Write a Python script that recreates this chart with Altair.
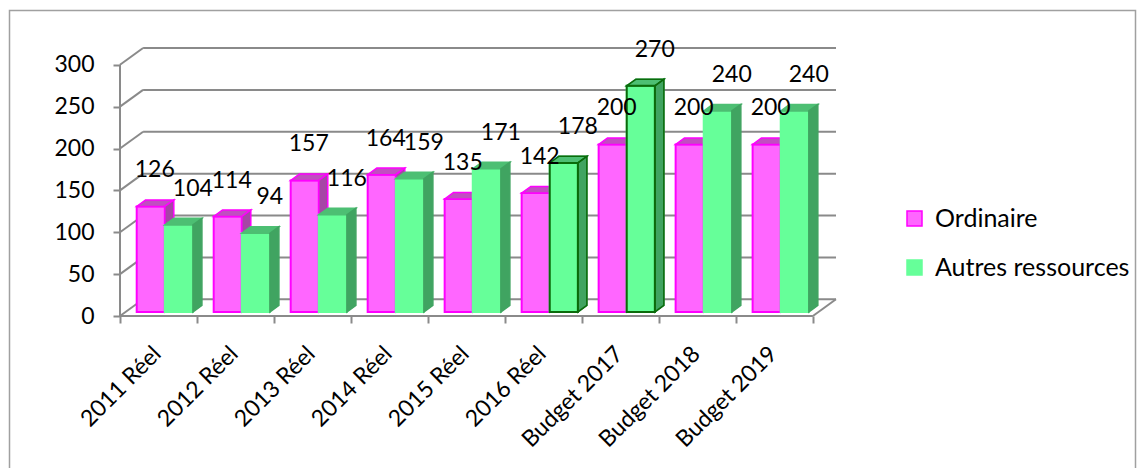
import json

import altair as alt
import pandas as pd

# Values shown on the chart
categories = ["2011 Réel", "2012 Réel", "2013 Réel", "2014 Réel", "2015 Réel",
              "2016 Réel", "Budget 2017", "Budget 2018", "Budget 2019"]
ordinaire = [126, 114, 157, 164, 135, 142, 200, 200, 200]
autres = [104, 94, 116, 159, 171, 178, 270, 240, 240]
series_names = ["Ordinaire", "Autres ressources"]
outlined = ["2016 Réel", "Budget 2017"]          # bars drawn with a dark outline
y_ticks = [0, 50, 100, 150, 200, 250, 300]

# Plot-area size (px) and pseudo-3D geometry in data units
W, H = 716, 268
X_MAX, Y_MAX = 9.3, 320
WALL_DX, WALL_DY = 0.3, 20          # depth of the back wall
SHIFT_X, SHIFT_Y = 0.072, 4.8       # bars sit a little behind the front edge
BAR_DX, BAR_DY = 0.117, 7.8         # depth of each bar
BAR_W = 0.365
BAR_START = {"Ordinaire": 0.145, "Autres ressources": 0.51}

FONT = "Lato"
GRID = "#8A8A8A"
FRONT = {"Ordinaire": "#FF66FF", "Autres ressources": "#66FF99"}
EDGE = {"Ordinaire": "#FF00FF", "Autres ressources": "#66FF99"}
TOP = {"Ordinaire": "#C04FC0", "Autres ressources": "#4DBF73"}
SIDE = {"Ordinaire": "#A646A6", "Autres ressources": "#40A461"}
DARK = "#0B6B0B"

front_rows, top_rows, side_rows = [], [], []
for i, cat in enumerate(categories):
    for s, vals in zip(series_names, [ordinaire, autres]):
        v = vals[i]
        x0 = i + BAR_START[s] + SHIFT_X
        x1 = x0 + BAR_W
        y0, y1 = SHIFT_Y, v + SHIFT_Y
        front_rows.append(dict(cat=cat, series=s, value=v, x0=x0, x1=x1,
                               y0=y0, y1=y1, xc=(x0 + x1) / 2))
        top_rows += [dict(cat=cat, series=s, ty=y1, tx=x0, tx2=x1),
                     dict(cat=cat, series=s, ty=y1 + BAR_DY,
                          tx=x0 + BAR_DX, tx2=x1 + BAR_DX)]
        side_rows += [dict(cat=cat, series=s, sx=x1, sy=y1, sy2=y0),
                      dict(cat=cat, series=s, sx=x1 + BAR_DX,
                           sy=y1 + BAR_DY, sy2=y0 + BAR_DY)]
front = pd.DataFrame(front_rows)
top = pd.DataFrame(top_rows)
side = pd.DataFrame(side_rows)

# Frame of the 3D box: back-wall gridlines, side-wall diagonals, floor, axis line
seg = []
for v in y_ticks:
    seg.append(dict(xa=WALL_DX, xb=X_MAX, ya=v + WALL_DY, yb=v + WALL_DY))
    seg.append(dict(xa=0, xb=WALL_DX, ya=v, yb=v + WALL_DY))
n = len(categories)
seg.append(dict(xa=0, xb=n, ya=0, yb=0))
seg.append(dict(xa=n, xb=X_MAX, ya=0, yb=WALL_DY))
seg.append(dict(xa=0, xb=0, ya=0, yb=y_ticks[-1]))
segments = pd.DataFrame(seg)

xs = alt.Scale(domain=[0, X_MAX], nice=False, zero=False)
ys = alt.Scale(domain=[0, Y_MAX], nice=False, zero=False)

label_js = json.dumps(categories, ensure_ascii=False)
x_axis = alt.Axis(values=list(range(n + 1)),
                  labelExpr=f"{label_js}[datum.value] || ''",
                  labelAngle=-45, labelAlign="right", labelBaseline="middle",
                  labelOffset=37, labelPadding=27, labelFlush=False,
                  labelOverlap=False, labelFont=FONT, labelFontSize=23,
                  labelColor="black", tickSize=7, tickWidth=2, tickColor=GRID,
                  domain=False, grid=False, title=None)
y_axis = alt.Axis(values=y_ticks, labelFont=FONT, labelFontSize=23,
                  labelColor="black", labelPadding=19, tickSize=7, tickWidth=2,
                  tickColor=GRID, domain=False, grid=False, title=None)


def X(field, **kw):
    return alt.X(field, scale=xs, axis=x_axis, **kw)


def Y(field, **kw):
    return alt.Y(field, scale=ys, axis=y_axis, **kw)


frame = alt.Chart(segments).mark_rule(color=GRID, strokeWidth=2).encode(
    x=X("xa:Q"), x2="xb:Q", y=Y("ya:Q"), y2="yb:Q")

border = alt.Chart(pd.DataFrame({"k": [0]})).mark_rect(
    fillOpacity=0, stroke="#A0A0A0", strokeWidth=1.5
).encode(x=alt.value(-110.5), x2=alt.value(1015.5),
         y=alt.value(-37.5), y2=alt.value(440))

legend = alt.Legend(orient="none", legendX=782, legendY=158, title=None,
                    symbolType="square", symbolSize=225, symbolStrokeWidth=1.5,
                    labelFont=FONT, labelFontSize=25, labelColor="black",
                    labelOffset=8, labelLimit=0, rowPadding=23, padding=0)
fill_enc = alt.Fill("series:N", scale=alt.Scale(
    domain=series_names, range=[FRONT[s] for s in series_names]), legend=legend)
stroke_enc = alt.Stroke("series:N", scale=alt.Scale(
    domain=series_names, range=[EDGE[s] for s in series_names]), legend=legend)


def bar_layers(s):
    face = alt.Chart(front).transform_filter(alt.datum.series == s).mark_rect(
        strokeWidth=2).encode(
        x=X("x0:Q"), x2="x1:Q", y=Y("y0:Q"), y2="y1:Q",
        fill=fill_enc, stroke=stroke_enc)
    lid = alt.Chart(top).transform_filter(alt.datum.series == s).mark_area(
        orient="horizontal", fill=TOP[s],
        stroke=EDGE[s] if s == "Ordinaire" else TOP[s], strokeWidth=1.5).encode(
        y=Y("ty:Q"), x=X("tx:Q", stack=False), x2="tx2:Q", detail="cat:N")
    flank = alt.Chart(side).transform_filter(alt.datum.series == s).mark_area(
        fill=SIDE[s], stroke=EDGE[s] if s == "Ordinaire" else SIDE[s],
        strokeWidth=1.5).encode(
        x=X("sx:Q"), y=Y("sy:Q", stack=False), y2="sy2:Q", detail="cat:N")
    return [face, lid, flank]


hl = alt.FieldOneOfPredicate(field="cat", oneOf=outlined)
g = "Autres ressources"
hl_face = alt.Chart(front).transform_filter(alt.datum.series == g).transform_filter(hl).mark_rect(
    fillOpacity=0, stroke=DARK, strokeWidth=2).encode(
    x=X("x0:Q"), x2="x1:Q", y=Y("y0:Q"), y2="y1:Q")
hl_lid = alt.Chart(top).transform_filter(alt.datum.series == g).transform_filter(hl).mark_area(
    orient="horizontal", fillOpacity=0, stroke=DARK, strokeWidth=1.5).encode(
    y=Y("ty:Q"), x=X("tx:Q", stack=False), x2="tx2:Q", detail="cat:N")
hl_flank = alt.Chart(side).transform_filter(alt.datum.series == g).transform_filter(hl).mark_area(
    fillOpacity=0, stroke=DARK, strokeWidth=1.5).encode(
    x=X("sx:Q"), y=Y("sy:Q", stack=False), y2="sy2:Q", detail="cat:N")


def value_labels(s, dx):
    return alt.Chart(front).transform_filter(alt.datum.series == s).mark_text(
        font=FONT, fontSize=23, color="black", align="center",
        baseline="middle", dx=dx, dy=-36).encode(
        x=X("xc:Q"), y=Y("y1:Q"), text="value:Q")


chart = alt.layer(
    border, frame,
    *bar_layers("Ordinaire"), *bar_layers("Autres ressources"),
    hl_face, hl_lid, hl_flank,
    value_labels("Ordinaire", 4), value_labels("Autres ressources", 14),
).properties(
    width=W, height=H,
    autosize=alt.AutoSizeParams(type="none"),
    padding={"left": 120, "top": 48, "right": 1137 - 120 - W,
             "bottom": 468 - 48 - H},
    background="white",
).configure_view(stroke=None)

chart.save("out.html", embed_options={"renderer": "svg", "actions": False})
